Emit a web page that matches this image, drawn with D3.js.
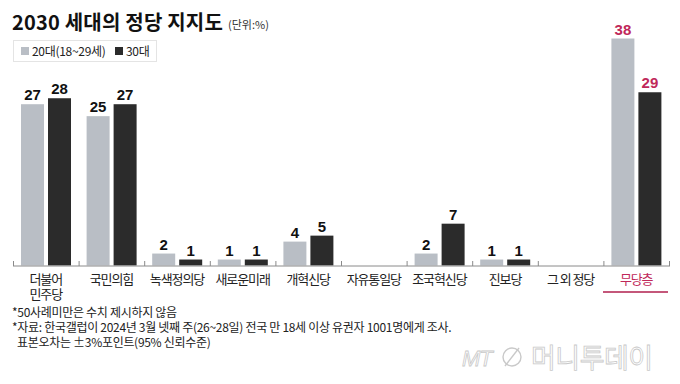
<!DOCTYPE html>
<html>
<head>
<meta charset="utf-8">
<script src="https://cdn.jsdelivr.net/npm/d3@7"></script>
<style>
  body { margin:0; background:#fff; }
  svg { display:block; }
  .kr { font-family:"Noto Sans CJK KR", "Noto Sans", sans-serif; }
  .num { font-family:"Liberation Sans Narrow", "Liberation Sans", Arial, sans-serif; font-weight:bold; }
</style>
</head>
<body>
<div class="chart"></div>
<script>
var categories = ["더불어\n민주당", "국민의힘", "녹색정의당", "새로운미래", "개혁신당", "자유통일당", "조국혁신당", "진보당", "그 외 정당", "무당층"];
var values20 = [27, 25, 2, 1, 4, null, 2, 1, null, 38];
var values30 = [28, 27, 1, 1, 5, null, 7, 1, null, 29];
var seriesNames = ["20대(18~29세)", "30대"];
var footnotes = ["50사례미만은 수치 제시하지 않음",
                 "자료: 한국갤럽이 2024년 3월 넷째 주(26~28일) 전국 만 18세 이상 유권자 1001명에게 조사.",
                 "표본오차는 ±3%포인트(95% 신뢰수준)"];

var grey = "#b9bec5", dark = "#2b2b2b", accent = "#c0285a";

var svg = d3.select("body div.chart").append("svg").attr("width", 680).attr("height", 384);

var x = d3.scaleBand().domain(categories).range([13, 669]);
var xSub = d3.scaleBand().domain(["s20", "s30"]).range([8, 58]).paddingInner(4/27);
var y = d3.scaleLinear().domain([0, 38]).range([265.5, 38.5]);

// title
svg.append("text").attr("class", "kr").attr("x", 12).attr("y", 30)
    .attr("font-size", 20).attr("font-weight", "bold").attr("letter-spacing", 0.2)
    .attr("fill", "#111").text("2030 세대의 정당 지지도");
svg.append("text").attr("class", "kr").attr("x", 228).attr("y", 29)
    .attr("font-size", 11).attr("letter-spacing", 0).attr("fill", "#333").text("(단위:%)");

// legend
var legend = svg.append("g");
legend.append("rect").attr("x", 13.5).attr("y", 40.5).attr("width", 143).attr("height", 21)
    .attr("fill", "none").attr("stroke", "#e4e4e4");
[[21, grey, seriesNames[0]], [115, dark, seriesNames[1]]].forEach(function(d) {
    legend.append("rect").attr("x", d[0]).attr("y", 47).attr("width", 8).attr("height", 8).attr("fill", d[1]);
    legend.append("text").attr("class", "kr").attr("x", d[0] + 11).attr("y", 55.5)
        .attr("font-size", 12).attr("letter-spacing", -0.3).attr("fill", "#222").text(d[2]);
});

// bars
var rows = categories.map(function(c, i) {
    return {cat: c, i: i, vals: [{k: "s20", v: values20[i]}, {k: "s30", v: values30[i]}]};
});

var groups = svg.selectAll("g.cat").data(rows).enter().append("g")
    .attr("class", "cat")
    .attr("transform", function(d) { return "translate(" + x(d.cat) + ",0)"; });

var cells = groups.selectAll("g.bar").data(function(d) {
        return d.vals.filter(function(v) { return v.v != null; })
                     .map(function(v) { v.last = d.i == categories.length - 1; return v; });
    }).enter().append("g").attr("class", "bar");

cells.append("rect")
    .attr("x", function(d) { return xSub(d.k); })
    .attr("width", xSub.bandwidth())
    .attr("y", function(d) { return y(d.v); })
    .attr("height", function(d) { return y(0) - y(d.v); })
    .attr("fill", function(d) { return d.k == "s20" ? grey : dark; });

cells.append("text").attr("class", "num")
    .attr("x", function(d) { return xSub(d.k) + xSub.bandwidth() / 2; })
    .attr("y", function(d) { return y(d.v) - 4; })
    .attr("text-anchor", "middle").attr("font-size", 15)
    .attr("fill", function(d) { return d.last ? accent : "#111"; })
    .text(function(d) { return d.v; });

// axis
var axis = svg.append("g");
axis.append("line").attr("x1", 13).attr("x2", 670).attr("y1", 266).attr("y2", 266)
    .attr("stroke", "#8a8a8a").attr("stroke-width", 1);
axis.selectAll("line.tick").data(categories.concat(["end"])).enter().append("line")
    .attr("x1", function(d, i) { return (i < categories.length ? x(d) : x.range()[1]) + 0.5; })
    .attr("x2", function(d, i) { return (i < categories.length ? x(d) : x.range()[1]) + 0.5; })
    .attr("y1", 261).attr("y2", 266).attr("stroke", "#8a8a8a");

// category labels
var labels = svg.selectAll("text.cat").data(categories).enter().append("text")
    .attr("class", "kr cat")
    .attr("x", function(d) { return x(d) + x.bandwidth() / 2; })
    .attr("y", 284)
    .attr("text-anchor", "middle").attr("font-size", 13).attr("letter-spacing", -1.1)
    .attr("fill", function(d, i) { return i == categories.length - 1 ? accent : "#222"; });
labels.each(function(d) {
    var t = d3.select(this);
    d.split("\n").forEach(function(s, j) {
        t.append("tspan").attr("x", x(d) + x.bandwidth() / 2).attr("dy", j ? 15 : 0).text(s);
    });
});
svg.append("line").attr("x1", 603).attr("x2", 668).attr("y1", 292).attr("y2", 292)
    .attr("stroke", "#c4577a").attr("stroke-width", 2);

// footnotes
var notes = svg.append("g").attr("class", "kr").attr("font-size", 12).attr("fill", "#222").attr("letter-spacing", -0.3);
notes.append("text").attr("x", 12).attr("y", 317).text("*" + footnotes[0]);
notes.append("text").attr("x", 12).attr("y", 332).text("*" + footnotes[1]);
notes.append("text").attr("x", 17).attr("y", 347).text(footnotes[2]);

// watermark
var wm = svg.append("g").attr("fill", "none").attr("stroke", "#c9c9c9").attr("stroke-width", 0.8);
wm.append("text").attr("x", 462).attr("y", 366).attr("font-family", "Liberation Sans")
    .attr("font-style", "italic").attr("font-size", 22).attr("letter-spacing", -1).text("MT");
wm.append("ellipse").attr("cx", 512).attr("cy", 357).attr("rx", 9).attr("ry", 9)
    .attr("stroke-width", 1.4);
wm.append("line").attr("x1", 505).attr("y1", 366).attr("x2", 519).attr("y2", 348).attr("stroke-width", 1.4);
wm.append("text").attr("class", "kr").attr("x", 531).attr("y", 368).attr("font-size", 27)
    .attr("letter-spacing", -0.5).text("머니투데이");
</script>
</body>
</html>
